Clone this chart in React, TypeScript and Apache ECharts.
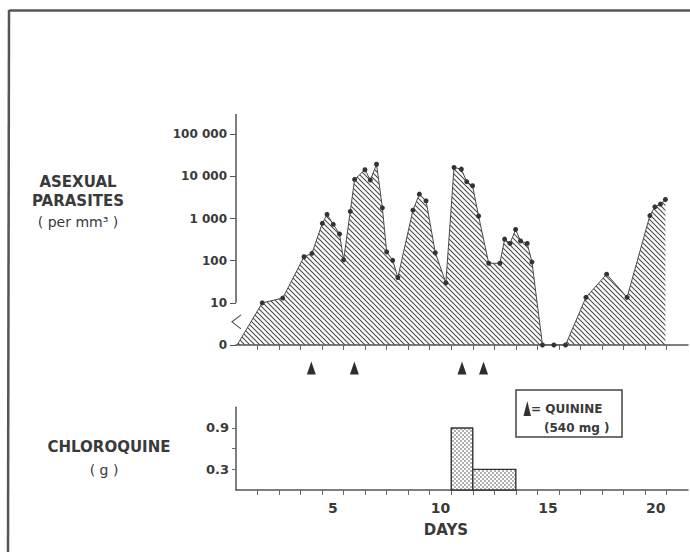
import React, { useEffect, useRef } from 'react';
import * as echarts from 'echarts';

// ---- data ----
// time (days from start of record) and asexual parasite count per mm3
const parasiteDays = [
  0.05, 1.22, 2.17, 3.16, 3.53, 4.01, 4.23, 4.52, 4.81, 5.0, 5.31, 5.51, 5.99, 6.24, 6.53, 6.8, 7.0,
  7.28, 7.52, 8.22, 8.52, 8.83, 9.26, 9.75, 10.13, 10.47, 10.72, 10.99, 11.27, 11.74, 12.26, 12.48,
  12.73, 12.99, 13.22, 13.53, 13.75, 14.24, 14.77, 15.31, 16.26, 17.22, 18.17, 19.23, 19.46, 19.72, 19.95,
];
const parasiteCounts = [
  0, 10, 13, 124, 150, 770, 1260, 730, 430, 105, 1480, 8500, 14400, 8200, 19500, 1800, 162,
  102, 40, 1580, 3800, 2640, 155, 30, 16300, 14900, 7500, 6000, 1150, 87, 87, 325,
  257, 550, 295, 257, 93, 0, 0, 0, 13.5, 48, 13.5, 1180, 1900, 2200, 2840,
];
const parasiteTicks = [1, 10, 100, 1000, 10000, 100000];
const dayTicks = [1, 2, 3, 4, 5, 6, 7, 8, 9, 10, 11, 12, 13, 14, 15, 16, 17, 18, 19, 20];
const dayLabels = [5, 10, 15, 20];
const chloroquineDays = [11, 12, 13];
const chloroquineDoses = [0.9, 0.3, 0.3];
const doseLabels = [0.3, 0.9];
const doseTicks = [0.3, 0.6, 0.9];
const quinineDays = [4, 6, 11, 12];

const FONT = '"DejaVu Sans", sans-serif';
const INK = '#3a3a3a';
const AXIS = '#555';

const svgUrl = (s: string) => 'data:image/svg+xml;charset=utf-8,' + encodeURIComponent(s);
const hatch = {
  image: svgUrl(
    "<svg xmlns='http://www.w3.org/2000/svg' width='5' height='5'><path d='M-1,-1 L6,6 M-1,4 L1,6 M4,-1 L6,1' stroke='#4a4a4a' stroke-width='1.1'/></svg>"
  ),
  repeat: 'repeat',
  imageWidth: 5,
  imageHeight: 5,
};
const stipple = {
  image: svgUrl(
    "<svg xmlns='http://www.w3.org/2000/svg' width='4' height='4'><rect width='4' height='4' fill='#fff'/><circle cx='1' cy='1' r='0.75' fill='#3a3a3a'/><circle cx='3' cy='3' r='0.75' fill='#3a3a3a'/></svg>"
  ),
  repeat: 'repeat',
  imageWidth: 4,
  imageHeight: 4,
};

const fmtThousands = (v: number) =>
  v === 1 ? '0' : String(Math.round(v)).replace(/\B(?=(\d{3})+(?!\d))/g, ' ');

export default function App() {
  const ref = useRef<HTMLDivElement>(null);
  useEffect(() => {
    if (!ref.current) return;
    const chart = echarts.init(ref.current, null, { renderer: 'svg' });

    // merge consecutive equal doses into runs [start, end, dose]
    const runs: number[][] = [];
    chloroquineDays.forEach((d, i) => {
      const dose = chloroquineDoses[i];
      const last = runs[runs.length - 1];
      if (last && last[1] === d - 1 && last[2] === dose) last[1] = d;
      else runs.push([d - 1, d, dose]);
    });

    const lineData = parasiteDays.map((t, i) => {
      const item: any = { value: [t, Math.max(parasiteCounts[i], 1)] };
      if (i === 0) item.symbol = 'none';
      return item;
    });

    const xBase = {
      type: 'value',
      min: 0,
      max: 21,
      axisLine: { show: true, lineStyle: { color: AXIS, width: 1.5 } },
      axisTick: { show: true, customValues: dayTicks, length: 5, lineStyle: { color: '#666', width: 1 } },
      splitLine: { show: false },
    };

    const option: any = {
      animation: false,
      backgroundColor: '#fff',
      grid: [
        { left: 236, top: 134.3, width: 452, height: 210.7 },
        { left: 236, top: 407.3, width: 452, height: 82.7 },
        { left: 236, top: 356, width: 452, height: 24 },
      ],
      xAxis: [
        { ...xBase, gridIndex: 0, axisLabel: { show: false } },
        {
          ...xBase,
          gridIndex: 1,
          axisLabel: {
            show: true,
            customValues: dayLabels.map((d) => d - 0.5),
            formatter: (v: number) => String(Math.round(v + 0.5)),
            fontFamily: FONT,
            fontWeight: 'bold',
            fontSize: 14,
            color: INK,
            margin: 11,
          },
        },
        { type: 'value', gridIndex: 2, min: 0, max: 21, show: false },
      ],
      yAxis: [
        {
          gridIndex: 0,
          type: 'log',
          logBase: 10,
          min: parasiteTicks[0],
          max: parasiteTicks[parasiteTicks.length - 1],
          axisLine: { show: false },
          axisTick: { show: true, length: 6, lineStyle: { color: AXIS, width: 1 } },
          axisLabel: {
            formatter: fmtThousands,
            fontFamily: FONT,
            fontWeight: 'bold',
            fontSize: 12,
            color: INK,
            margin: 9,
          },
          splitLine: { show: false },
        },
        {
          gridIndex: 1,
          type: 'value',
          min: 0,
          max: 1.2,
          interval: 0.3,
          axisLine: { show: true, lineStyle: { color: AXIS, width: 1.5 } },
          axisTick: { show: true, customValues: doseTicks, length: 4, lineStyle: { color: '#666', width: 1 } },
          axisLabel: {
            customValues: doseLabels,
            formatter: (v: number) => v.toFixed(1),
            fontFamily: FONT,
            fontWeight: 'bold',
            fontSize: 13,
            color: INK,
            margin: 7,
          },
          splitLine: { show: false },
        },
        { gridIndex: 2, type: 'value', min: 0, max: 1, show: false },
      ],
      series: [
        {
          type: 'line',
          xAxisIndex: 0,
          yAxisIndex: 0,
          data: lineData,
          symbol: 'circle',
          symbolSize: 5,
          showAllSymbol: true,
          itemStyle: { color: '#333' },
          lineStyle: { color: '#4a4a4a', width: 1 },
          areaStyle: { color: hatch, opacity: 1, origin: 'start' },
          z: 3,
        },
        {
          type: 'custom',
          xAxisIndex: 1,
          yAxisIndex: 1,
          data: runs,
          encode: { x: [0, 1], y: 2 },
          renderItem: (params: any, api: any) => {
            const p0 = api.coord([api.value(0), api.value(2)]);
            const p1 = api.coord([api.value(1), 0]);
            return {
              type: 'rect',
              shape: { x: p0[0], y: p0[1], width: p1[0] - p0[0], height: p1[1] - p0[1] },
              style: { fill: stipple, stroke: '#333', lineWidth: 1.4 },
            };
          },
          z: 3,
        },
        {
          type: 'scatter',
          xAxisIndex: 2,
          yAxisIndex: 2,
          data: quinineDays.map((d) => [d - 0.5, 0.5]),
          symbol: 'triangle',
          symbolSize: [9, 13],
          itemStyle: { color: '#2e2e2e', opacity: 1 },
        },
      ],
    };
    chart.setOption(option);

    const p10 = chart.convertToPixel({ gridIndex: 0 }, [0, 10]) as number[];
    const p1e5 = chart.convertToPixel({ gridIndex: 0 }, [0, 100000]) as number[];
    const p1e4 = chart.convertToPixel({ gridIndex: 0 }, [0, 10000]) as number[];
    const x0 = p10[0];
    const yTop = p1e5[1] - (p1e4[1] - p1e5[1]) * 0.48;

    const txt = (text: string, x: number, y: number, size: number, weight = 'bold', align = 'center') => ({
      type: 'text',
      style: {
        text,
        x,
        y,
        fill: INK,
        font: `${weight} ${size}px ${FONT}`,
        textAlign: align,
        textVerticalAlign: 'middle',
      },
    });

    chart.setOption({
      graphic: [
        // frame
        { type: 'line', shape: { x1: 9, y1: 10.5, x2: 690, y2: 10.5 }, style: { stroke: '#555', lineWidth: 2.5 } },
        { type: 'line', shape: { x1: 9, y1: 10, x2: 8, y2: 552 }, style: { stroke: '#555', lineWidth: 2.5 } },
        // y axis line of top panel with break
        { type: 'line', shape: { x1: x0, y1: p10[1], x2: x0, y2: yTop }, style: { stroke: AXIS, lineWidth: 1.5 } },
        {
          type: 'polyline',
          shape: { points: [[x0 + 5, p10[1] + 12], [x0 - 4, p10[1] + 19], [x0 + 5, p10[1] + 26]] },
          style: { stroke: '#555', lineWidth: 1.2, fill: 'none' },
        },
        // left titles
        txt('ASEXUAL', 78, 182, 15),
        txt('PARASITES', 78, 201, 15),
        txt('( per mm³ )', 78, 222, 14, 'normal'),
        txt('CHLOROQUINE', 109, 447, 15),
        txt('( g )', 104, 470, 14, 'normal'),
        txt('DAYS', 446, 530, 15),
        // legend box
        { type: 'rect', shape: { x: 516, y: 390, width: 106, height: 47 }, style: { fill: '#fff', stroke: '#444', lineWidth: 1.5 } },
        { type: 'polygon', shape: { points: [[523.5, 416], [527.3, 401], [531, 416]] }, style: { fill: '#333' } },
        txt('= QUININE', 531, 409, 12, 'bold', 'left'),
        txt('(540 mg )', 544, 428, 12, 'bold', 'left'),
      ],
    });

    return () => chart.dispose();
  }, []);
  return (
    <div
      ref={ref}
      style={{ position: 'fixed', left: 0, top: 0, width: 690, height: 552, background: '#fff' }}
    />
  );
}
